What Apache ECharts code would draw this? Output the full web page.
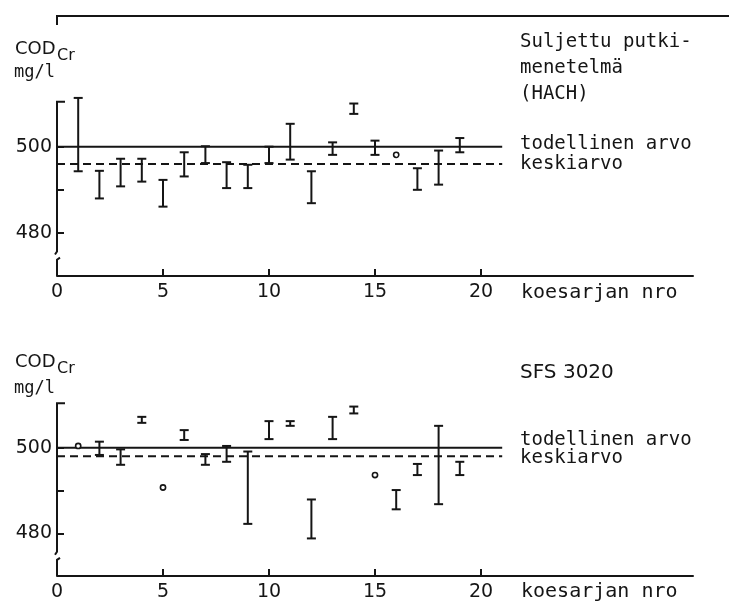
<!DOCTYPE html>
<html>
<head>
<meta charset="utf-8">
<script src="https://cdn.jsdelivr.net/npm/echarts@6/dist/echarts.min.js"></script>
<style>
    html, body { margin: 0; padding: 0; background: #fff; }
    #chart { width: 729px; height: 606px; }
</style>
</head>
<body>
<div id="chart"></div>
<script>
// Test series numbers (koesarjan nro)
const runs = [1, 2, 3, 4, 5, 6, 7, 8, 9, 10, 11, 12, 13, 14, 15, 16, 17, 18, 19];

// Suljettu putkimenetelmä (HACH): range low / high per run, mg/l
const hachLow  = [494.3, 488.0, 490.8, 491.9, 486.1, 493.1, 496.2, 490.4, 490.4, 496.2, 497.0, 486.9, 498.1, 507.6, 498.1, 498.1, 490.0, 491.2, 498.7];
const hachHigh = [511.3, 494.4, 497.2, 497.2, 492.3, 498.7, 500.1, 496.4, 495.8, 500.0, 505.3, 494.3, 501.0, 510.0, 501.4, 498.1, 495.0, 499.1, 502.0];

// SFS 3020
const sfsLow  = [500.4, 498.3, 496.0, 505.8, 490.7, 501.8, 496.0, 496.7, 482.2, 502.0, 505.1, 478.8, 502.0, 508.0, 493.6, 485.6, 493.6, 486.8, 493.6];
const sfsHigh = [500.4, 501.4, 499.6, 507.2, 490.7, 504.1, 498.5, 500.4, 499.1, 506.2, 506.2, 487.9, 507.2, 509.6, 493.6, 490.1, 496.2, 505.1, 496.7];

const trueValue = 500;   // todellinen arvo
const hachMean = 496;    // keskiarvo
const sfsMean = 498;

const xLabels = [0, 5, 10, 15, 20];
const xTickMarks = [5, 10, 15, 20];
const yLabels = [480, 500];
const yTickMarks = [480, 490, 500];

const ink = '#151515';
const sans = 'DejaVu Sans';
const mono = 'DejaVu Sans Mono';
const refEnd = 21;

function renderBar(params, api) {
    const x = api.value(0), lo = api.value(1), hi = api.value(2);
    const p1 = api.coord([x, lo]);
    const p2 = api.coord([x, hi]);
    if (lo === hi) {
        return { type: 'circle', shape: { cx: p1[0], cy: p1[1], r: 2.6 },
            style: { stroke: ink, lineWidth: 1.6, fill: '#fff' } };
    }
    const w = 4.5;
    const style = { stroke: ink, lineWidth: 2, fill: null };
    return {
        type: 'group',
        children: [
            { type: 'line', shape: { x1: p1[0], y1: p1[1], x2: p2[0], y2: p2[1] }, style },
            { type: 'line', shape: { x1: p1[0] - w, y1: p1[1], x2: p1[0] + w, y2: p1[1] }, style },
            { type: 'line', shape: { x1: p2[0] - w, y1: p2[1], x2: p2[0] + w, y2: p2[1] }, style }
        ]
    };
}

// broken y axis drawn on the axis scale
function renderFrame(params, api) {
    const top = api.coord([0, 510.4]);
    const brk1 = api.coord([0, 475.7]);
    const brk2 = api.coord([0, 473.8]);
    const base = api.coord([0, 470]);
    const style = { stroke: ink, lineWidth: 2, fill: null };
    return {
        type: 'group',
        children: [
            { type: 'polyline', shape: { points: [[top[0] + 8, top[1]], top, brk1, [brk1[0] - 2, brk1[1] + 3]] }, style },
            { type: 'polyline', shape: { points: [[brk2[0] + 3, brk2[1] - 2], brk2, base] }, style }
        ]
    };
}

const grids = [
    { left: 57, top: 94.9, width: 636, height: 181.2 },
    { left: 57, top: 396.3, width: 636, height: 179.8 }
];

const xAxes = grids.map((g, i) => ({
    gridIndex: i, type: 'value', min: 0, max: 30, interval: 5,
    axisLine: { show: true, onZero: false, lineStyle: { color: ink, width: 2 } },
    axisTick: { show: true, inside: true, length: 7, customValues: xTickMarks, lineStyle: { color: ink, width: 2 } },
    axisLabel: { customValues: xLabels, fontSize: 19, fontFamily: sans, color: ink, margin: 6 },
    splitLine: { show: false }
}));

const yAxes = grids.map((g, i) => ({
    gridIndex: i, type: 'value', min: 470, max: 512,
    axisLine: { show: false },
    axisTick: { show: true, inside: true, length: 7, customValues: yTickMarks, lineStyle: { color: ink, width: 2 } },
    axisLabel: { customValues: yLabels, fontSize: 19, fontFamily: sans, color: ink, margin: 5 },
    splitLine: { show: false }
}));

const panels = [
    { low: hachLow, high: hachHigh, mean: hachMean },
    { low: sfsLow, high: sfsHigh, mean: sfsMean }
];

const series = [];
panels.forEach((p, i) => {
    series.push({
        type: 'custom', xAxisIndex: i, yAxisIndex: i, clip: false, silent: true,
        renderItem: renderFrame, data: [[0]]
    });
    series.push({
        type: 'line', xAxisIndex: i, yAxisIndex: i, symbol: 'none', silent: true,
        data: [[0, trueValue], [refEnd, trueValue]],
        lineStyle: { color: ink, width: 2 }
    });
    series.push({
        type: 'line', xAxisIndex: i, yAxisIndex: i, symbol: 'none', silent: true,
        data: [[0, p.mean], [refEnd, p.mean]],
        lineStyle: { color: ink, width: 2, type: [8, 5] }
    });
    series.push({
        type: 'custom', xAxisIndex: i, yAxisIndex: i, clip: false, silent: true, z: 5,
        renderItem: renderBar,
        encode: { x: 0, y: [1, 2] },
        data: runs.map((r, k) => [r, p.low[k], p.high[k]])
    });
});

function txt(x, y, text, size, family, align) {
    return { type: 'text', x: x, y: y, silent: true,
        style: { text: text, font: size + 'px "' + family + '"', fill: ink,
            textAlign: align || 'left', textVerticalAlign: 'middle' } };
}

const graphics = [
    { type: 'polyline', silent: true, shape: { points: [[57, 25], [57, 16], [729, 16]] },
      style: { stroke: ink, lineWidth: 2, fill: null } },
    // top panel
    txt(15, 49, 'COD', 18, sans), txt(57, 56, 'Cr', 16, sans), txt(14, 73, 'mg/l', 17, mono),
    txt(520, 42, 'Suljettu putki-', 19, mono), txt(520, 68, 'menetelmä', 19, mono), txt(520, 94, '(HACH)', 19, mono),
    txt(520, 144, 'todellinen arvo', 19, mono), txt(520, 164, 'keskiarvo', 19, mono),
    txt(521, 293, 'koesarjan nro', 20, mono),
    // bottom panel
    txt(15, 362, 'COD', 18, sans), txt(57, 369, 'Cr', 16, sans), txt(14, 389, 'mg/l', 17, mono),
    txt(520, 373, 'SFS 3020', 20, sans),
    txt(520, 440, 'todellinen arvo', 19, mono), txt(520, 458, 'keskiarvo', 19, mono),
    txt(521, 592, 'koesarjan nro', 20, mono)
];

const chart = echarts.init(document.getElementById('chart'));
chart.setOption({
    backgroundColor: '#fff',
    animation: false,
    grid: grids,
    xAxis: xAxes,
    yAxis: yAxes,
    series: series,
    graphic: graphics
});
</script>
</body>
</html>
